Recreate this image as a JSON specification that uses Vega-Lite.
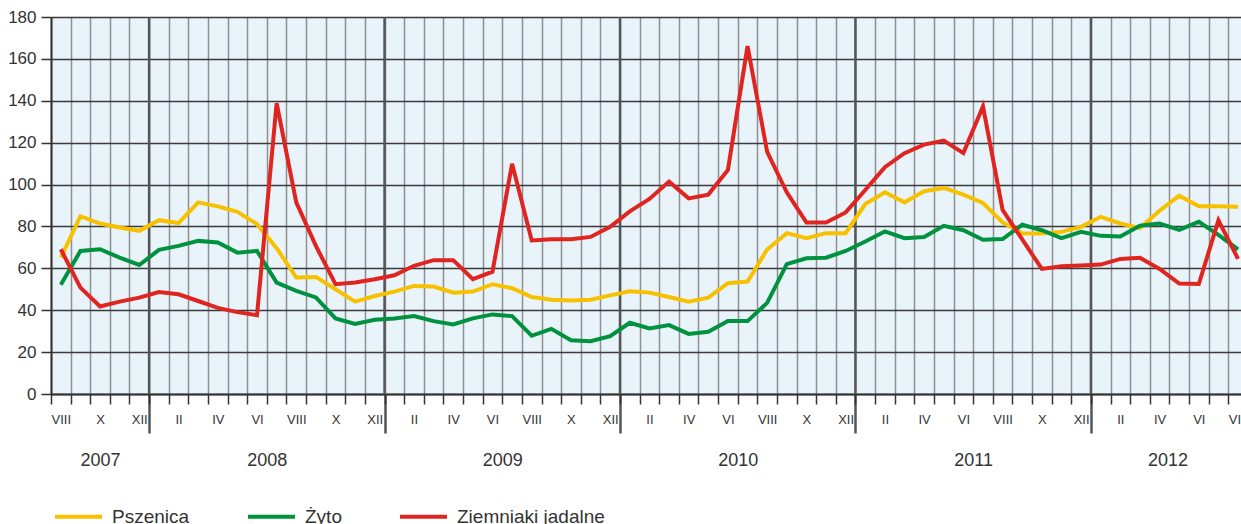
{
  "$schema": "https://vega.github.io/schema/vega-lite/v6.json",
  "width": 1190,
  "height": 377,
  "autosize": {"type": "none"},
  "padding": {"left": 51, "top": 17, "right": 0, "bottom": 130},
  "config": {
    "font": "Liberation Sans",
    "view": {"fill": "#e8f3fa", "stroke": null},
    "axis": {"labelColor": "#333333", "titleColor": "#333333"}
  },
  "datasets": {
    "prices": [
      {"i": 0, "Pszenica": 65.1, "Żyto": 52.2, "Ziemniaki jadalne": 69.1},
      {"i": 1, "Pszenica": 84.9, "Żyto": 68.3, "Ziemniaki jadalne": 50.8},
      {"i": 2, "Pszenica": 81.4, "Żyto": 69.1, "Ziemniaki jadalne": 41.8},
      {"i": 3, "Pszenica": 79.5, "Żyto": 65.1, "Ziemniaki jadalne": 44.1},
      {"i": 4, "Pszenica": 77.9, "Żyto": 61.6, "Ziemniaki jadalne": 46.0},
      {"i": 5, "Pszenica": 83.0, "Żyto": 68.8, "Ziemniaki jadalne": 48.7},
      {"i": 6, "Pszenica": 81.6, "Żyto": 70.7, "Ziemniaki jadalne": 47.6},
      {"i": 7, "Pszenica": 91.5, "Żyto": 73.1, "Ziemniaki jadalne": 44.4},
      {"i": 8, "Pszenica": 89.6, "Żyto": 72.3, "Ziemniaki jadalne": 41.1},
      {"i": 9, "Pszenica": 87.0, "Żyto": 67.5, "Ziemniaki jadalne": 39.1},
      {"i": 10, "Pszenica": 81.1, "Żyto": 68.3, "Ziemniaki jadalne": 37.6},
      {"i": 11, "Pszenica": 69.6, "Żyto": 53.2, "Ziemniaki jadalne": 138.9},
      {"i": 12, "Pszenica": 55.6, "Żyto": 49.2, "Ziemniaki jadalne": 91.5},
      {"i": 13, "Pszenica": 55.9, "Żyto": 46.1, "Ziemniaki jadalne": 70.7},
      {"i": 14, "Pszenica": 50.0, "Żyto": 36.1, "Ziemniaki jadalne": 52.4},
      {"i": 15, "Pszenica": 44.1, "Żyto": 33.5, "Ziemniaki jadalne": 53.2},
      {"i": 16, "Pszenica": 46.8, "Żyto": 35.4, "Ziemniaki jadalne": 54.8},
      {"i": 17, "Pszenica": 48.9, "Żyto": 36.1, "Ziemniaki jadalne": 56.7},
      {"i": 18, "Pszenica": 51.6, "Żyto": 37.2, "Ziemniaki jadalne": 61.2},
      {"i": 19, "Pszenica": 51.3, "Żyto": 34.8, "Ziemniaki jadalne": 63.9},
      {"i": 20, "Pszenica": 48.4, "Żyto": 33.2, "Ziemniaki jadalne": 63.9},
      {"i": 21, "Pszenica": 48.9, "Żyto": 36.1, "Ziemniaki jadalne": 54.8},
      {"i": 22, "Pszenica": 52.4, "Żyto": 38.0, "Ziemniaki jadalne": 58.4},
      {"i": 23, "Pszenica": 50.5, "Żyto": 37.2, "Ziemniaki jadalne": 109.9},
      {"i": 24, "Pszenica": 46.3, "Żyto": 27.8, "Ziemniaki jadalne": 73.3},
      {"i": 25, "Pszenica": 45.0, "Żyto": 31.1, "Ziemniaki jadalne": 73.9},
      {"i": 26, "Pszenica": 44.7, "Żyto": 25.7, "Ziemniaki jadalne": 73.9},
      {"i": 27, "Pszenica": 45.0, "Żyto": 25.2, "Ziemniaki jadalne": 75.0},
      {"i": 28, "Pszenica": 47.1, "Żyto": 27.6, "Ziemniaki jadalne": 79.8},
      {"i": 29, "Pszenica": 49.0, "Żyto": 34.0, "Ziemniaki jadalne": 87.2},
      {"i": 30, "Pszenica": 48.4, "Żyto": 31.3, "Ziemniaki jadalne": 93.1},
      {"i": 31, "Pszenica": 46.3, "Żyto": 32.9, "Ziemniaki jadalne": 101.4},
      {"i": 32, "Pszenica": 44.1, "Żyto": 28.7, "Ziemniaki jadalne": 93.4},
      {"i": 33, "Pszenica": 46.0, "Żyto": 29.7, "Ziemniaki jadalne": 95.2},
      {"i": 34, "Pszenica": 52.9, "Żyto": 34.8, "Ziemniaki jadalne": 107.0},
      {"i": 35, "Pszenica": 53.7, "Żyto": 34.8, "Ziemniaki jadalne": 166.1},
      {"i": 36, "Pszenica": 69.0, "Żyto": 43.5, "Ziemniaki jadalne": 115.6},
      {"i": 37, "Pszenica": 76.8, "Żyto": 62.0, "Ziemniaki jadalne": 96.3},
      {"i": 38, "Pszenica": 74.4, "Żyto": 64.8, "Ziemniaki jadalne": 81.9},
      {"i": 39, "Pszenica": 76.8, "Żyto": 65.1, "Ziemniaki jadalne": 81.9},
      {"i": 40, "Pszenica": 76.8, "Żyto": 68.3, "Ziemniaki jadalne": 86.7},
      {"i": 41, "Pszenica": 90.7, "Żyto": 72.8, "Ziemniaki jadalne": 97.4},
      {"i": 42, "Pszenica": 96.3, "Żyto": 77.6, "Ziemniaki jadalne": 108.3},
      {"i": 43, "Pszenica": 91.5, "Żyto": 74.4, "Ziemniaki jadalne": 115.0},
      {"i": 44, "Pszenica": 96.8, "Żyto": 75.0, "Ziemniaki jadalne": 119.1},
      {"i": 45, "Pszenica": 98.4, "Żyto": 80.3, "Ziemniaki jadalne": 121.0},
      {"i": 46, "Pszenica": 95.2, "Żyto": 78.2, "Ziemniaki jadalne": 115.0},
      {"i": 47, "Pszenica": 91.2, "Żyto": 73.6, "Ziemniaki jadalne": 137.3},
      {"i": 48, "Pszenica": 81.9, "Żyto": 74.0, "Ziemniaki jadalne": 87.9},
      {"i": 49, "Pszenica": 76.8, "Żyto": 80.8, "Ziemniaki jadalne": 73.8},
      {"i": 50, "Pszenica": 76.6, "Żyto": 78.2, "Ziemniaki jadalne": 59.7},
      {"i": 51, "Pszenica": 77.4, "Żyto": 74.4, "Ziemniaki jadalne": 61.0},
      {"i": 52, "Pszenica": 79.8, "Żyto": 77.4, "Ziemniaki jadalne": 61.3},
      {"i": 53, "Pszenica": 84.6, "Żyto": 75.5, "Ziemniaki jadalne": 61.8},
      {"i": 54, "Pszenica": 81.4, "Żyto": 75.2, "Ziemniaki jadalne": 64.5},
      {"i": 55, "Pszenica": 79.2, "Żyto": 80.3, "Ziemniaki jadalne": 65.0},
      {"i": 56, "Pszenica": 87.5, "Żyto": 81.4, "Ziemniaki jadalne": 59.7},
      {"i": 57, "Pszenica": 94.7, "Żyto": 78.4, "Ziemniaki jadalne": 52.7},
      {"i": 58, "Pszenica": 89.6, "Żyto": 82.2, "Ziemniaki jadalne": 52.5},
      {"i": 59, "Pszenica": 89.6, "Żyto": 76.0, "Ziemniaki jadalne": 82.9},
      {"i": 60, "Pszenica": 89.4, "Żyto": 69.1, "Ziemniaki jadalne": 64.5}
    ],
    "boundaries": [
      {"boundary": 4.5}, {"boundary": 16.5}, {"boundary": 28.5}, {"boundary": 40.5}, {"boundary": 52.5}
    ],
    "years": [
      {"year": "2007", "mid": 2}, {"year": "2008", "mid": 10.5}, {"year": "2009", "mid": 22.5},
      {"year": "2010", "mid": 34.5}, {"year": "2011", "mid": 46.5}, {"year": "2012", "mid": 56.4}
    ]
  },
  "resolve": {"axis": {"x": "independent"}},
  "layer": [
    {
      "data": {"name": "years"},
      "mark": {"type": "rule", "opacity": 0},
      "encoding": {
        "x": {
          "field": "mid", "type": "quantitative",
          "scale": {"domain": [-0.5, 60.15], "nice": false, "zero": false},
          "axis": {
            "orient": "bottom", "values": [2, 10.5, 22.5, 34.5, 46.5, 56.4],
            "labelExpr": "datum.value < 4.5 ? '2007' : '' + (2008 + floor((datum.value - 4.5) / 12))",
            "ticks": false, "tickSize": 0, "domain": false, "grid": false,
            "labelPadding": 57, "labelFontSize": 18, "labelOverlap": false, "labelFlush": false,
            "title": null
          }
        }
      }
    },
    {
      "data": {"name": "boundaries"},
      "mark": {"type": "rule", "color": "#555555", "strokeWidth": 2.5},
      "encoding": {
        "x": {
          "field": "boundary", "type": "quantitative",
          "axis": {
            "orient": "bottom", "values": [4.5, 16.5, 28.5, 40.5, 52.5],
            "labels": false, "ticks": true, "tickSize": 39, "tickWidth": 2.5, "tickColor": "#555555",
            "domain": false, "grid": false, "title": null
          }
        }
      }
    },
    {
      "data": {"name": "prices"},
      "transform": [{"fold": ["Pszenica", "Żyto", "Ziemniaki jadalne"], "as": ["series", "value"]}],
      "mark": {"type": "line", "strokeWidth": 4, "strokeJoin": "miter"},
      "encoding": {
        "x": {
          "field": "i", "type": "quantitative",
          "axis": {
            "orient": "bottom",
            "values": [-0.5, 0.5, 1.5, 2.5, 3.5, 4.5, 5.5, 6.5, 7.5, 8.5, 9.5, 10.5, 11.5, 12.5, 13.5, 14.5, 15.5, 16.5, 17.5, 18.5, 19.5, 20.5, 21.5, 22.5, 23.5, 24.5, 25.5, 26.5, 27.5, 28.5, 29.5, 30.5, 31.5, 32.5, 33.5, 34.5, 35.5, 36.5, 37.5, 38.5, 39.5, 40.5, 41.5, 42.5, 43.5, 44.5, 45.5, 46.5, 47.5, 48.5, 49.5, 50.5, 51.5, 52.5, 53.5, 54.5, 55.5, 56.5, 57.5, 58.5, 59.5],
            "labelExpr": "(datum.value + 0.5) % 2 === 0 ? ['I','II','III','IV','V','VI','VII','VIII','IX','X','XI','XII'][(datum.value + 7.5) % 12] : ''",
            "labelOffset": 9.81, "labelPadding": 9, "labelFontSize": 13,
            "labelOverlap": false, "labelFlush": false,
            "ticks": true, "tickSize": 10, "tickColor": "#333333", "tickWidth": 1.5,
            "domain": true, "domainColor": "#333333", "domainWidth": 2,
            "grid": true, "gridColor": "#8f8f8f", "gridWidth": 1.5,
            "title": null
          }
        },
        "y": {
          "field": "value", "type": "quantitative",
          "scale": {"domain": [0, 180], "nice": false, "zero": true},
          "axis": {
            "values": [0, 20, 40, 60, 80, 100, 120, 140, 160, 180],
            "grid": true, "gridColor": "#3a3a3a", "gridWidth": 1.5,
            "tickSize": 10, "tickColor": "#333333", "tickWidth": 1.5,
            "domainColor": "#333333", "domainWidth": 2,
            "labelFontSize": 17, "labelPadding": 5, "title": null
          }
        },
        "color": {
          "field": "series", "type": "nominal",
          "scale": {"domain": ["Pszenica", "Żyto", "Ziemniaki jadalne"], "range": ["#f7c100", "#00923f", "#e02420"]},
          "legend": {
            "orient": "none", "legendX": 2, "legendY": 474, "direction": "horizontal",
            "title": null, "symbolType": "stroke", "symbolStrokeWidth": 4, "symbolSize": 2209,
            "labelFontSize": 19, "labelOffset": 8, "columnPadding": 50, "labelColor": "#333333", "padding": 0
          }
        }
      }
    }
  ]
}
